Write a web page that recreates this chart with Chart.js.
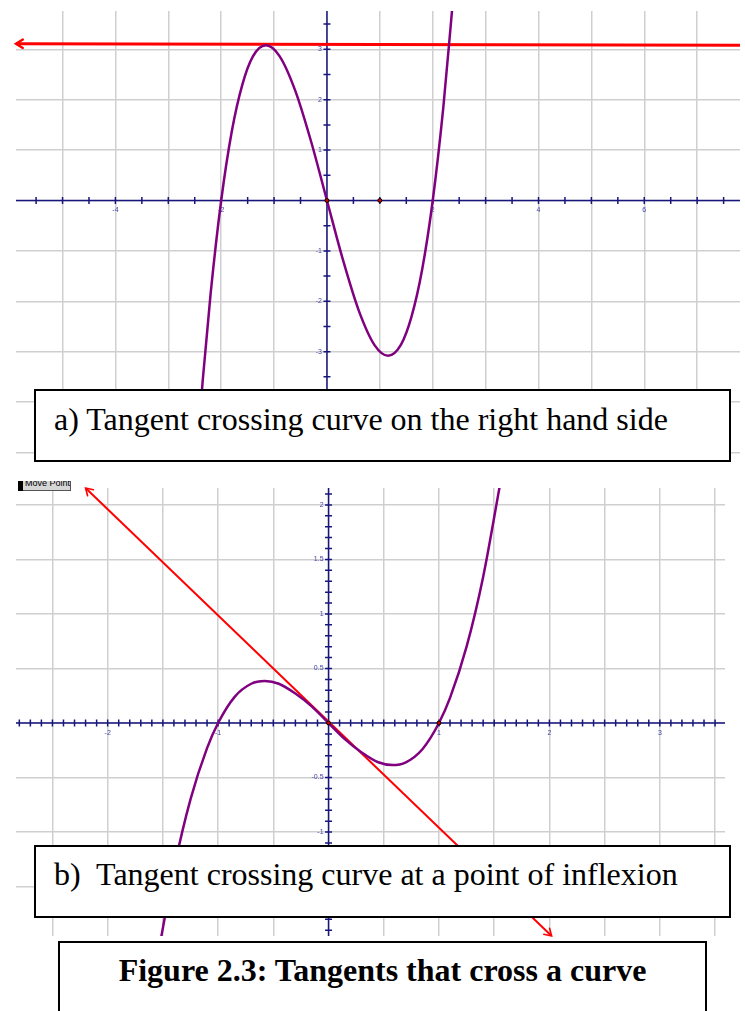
<!DOCTYPE html>
<html lang="en">
<head>
<meta charset="UTF-8">
<title>Tangents that cross a curve</title>
<script src="https://cdn.jsdelivr.net/npm/chart.js"></script>
<style>
  body { margin: 0; background: #fff; width: 745px; height: 1011px; position: relative; overflow: hidden; }
  .plot { position: absolute; display: block; }
  .caption {
    position: absolute; box-sizing: border-box; border: 2px solid #000; background: #fff;
    font-family: "Liberation Serif", "Times New Roman", serif; font-size: 32px; color: #000;
  }
  .caption span { position: absolute; line-height: 32px; white-space: pre; }
  #movePoint {
    position: absolute; left: 23px; top: 481px; width: 47px; height: 9px; overflow: hidden;
    background: #d6d6d6; border-right: 1px solid #555; border-bottom: 1px solid #555;
    font: 9px "Liberation Sans", Arial, sans-serif; color: #000;
  }
  #movePoint span { position: absolute; left: 2px; top: -3px; white-space: nowrap; }
  #moveGrip { position: absolute; left: 18px; top: 481px; width: 5px; height: 10px; background: #000; }
</style>
</head>
<body>
  <canvas id="graphA" class="plot" width="734" height="457" style="left:11px; top:6px;"></canvas>
  <canvas id="graphB" class="plot" width="719" height="458" style="left:11px; top:483px;"></canvas>

  <div id="moveGrip"></div>
  <div id="movePoint"><span>Move Point</span></div>

  <div class="caption" style="left:34px; top:389px; width:697px; height:73px;">
    <span style="left:18px; top:11.5px;">a) Tangent crossing curve on the right hand side</span>
  </div>
  <div class="caption" style="left:34px; top:845px; width:697px; height:73px;">
    <span style="left:18px; top:11.2px;">b)  Tangent crossing curve at a point of inflexion</span>
  </div>
  <div class="caption" style="left:58px; top:941px; width:649px; height:90px;">
    <span style="left:0; width:100%; text-align:center; top:11.2px; font-weight:bold;">Figure 2.3: Tangents that cross a curve</span>
  </div>

<script>
// (a) cubic with a turning point, tangent at the maximum
const curveAX = [-2.47, -2.35, -2.2, -2.0, -1.8, -1.6, -1.4, -1.155, -0.9, -0.6, -0.3, 0,
                 0.3, 0.6, 0.9, 1.155, 1.4, 1.6, 1.8, 2.0, 2.2, 2.37];
const curveAY = [-5.19, -3.58, -1.85, 0, 1.37, 2.30, 2.86, 3.08, 2.87, 2.18, 1.17, 0,
                 -1.17, -2.18, -2.87, -3.08, -2.86, -2.30, -1.37, 0, 1.85, 3.83];
const tangentAX = [-5.88, 7.81];
const tangentAY = [3.11, 3.08];
const pointsAX = [0, 1];
const pointsAY = [0, 0];
const xLabelsA = [-4, -2, 2, 4, 6];
const yLabelsA = [-3, -2, -1, 1, 2, 3];

// (b) cubic with its tangent at the point of inflexion
const curveBX = [-1.52, -1.4, -1.25, -1.1, -1.0, -0.85, -0.7, -0.577, -0.45, -0.3, -0.15, 0,
                 0.15, 0.3, 0.45, 0.577, 0.7, 0.85, 1.0, 1.1, 1.25, 1.4, 1.55];
const curveBY = [-1.99, -1.34, -0.70, -0.23, 0, 0.24, 0.36, 0.385, 0.36, 0.27, 0.15, 0,
                 -0.15, -0.27, -0.36, -0.385, -0.36, -0.24, 0, 0.23, 0.70, 1.34, 2.17];
const tangentBX = [-2.2, 2.02];
const tangentBY = [2.155, -1.953];
const pointsBX = [0, 1];
const pointsBY = [0, 0];
const xLabelsB = [-2, -1, 1, 2, 3];
const yLabelsB = [-1, -0.5, 0.5, 1, 1.5, 2];

const xy = (xs, ys) => xs.map((x, i) => ({ x: x, y: ys[i] }));

// axes through the origin with crossing tick marks and small blue labels
const crossAxes = {
    id: 'crossAxes',
    beforeDatasetsDraw(chart, args, opts) {
        const { ctx, chartArea: a, scales: { x, y } } = chart;
        const x0 = x.getPixelForValue(0);
        const y0 = y.getPixelForValue(0);
        ctx.save();
        ctx.strokeStyle = '#16167e';
        ctx.lineWidth = 1.5;
        ctx.beginPath();
        ctx.moveTo(a.left, y0); ctx.lineTo(a.right, y0);
        ctx.moveTo(x0, a.top); ctx.lineTo(x0, a.bottom);
        for (let i = 0; ; i++) {
            const v = opts.xTicks[0] + i * opts.xTicks[2];
            if (v > opts.xTicks[1] + 1e-9) break;
            const px = x.getPixelForValue(v);
            ctx.moveTo(px, y0 - 3.5); ctx.lineTo(px, y0 + 3.5);
        }
        for (let i = 0; ; i++) {
            const v = opts.yTicks[0] + i * opts.yTicks[2];
            if (v > opts.yTicks[1] + 1e-9) break;
            const py = y.getPixelForValue(v);
            ctx.moveTo(x0 - 3.5, py); ctx.lineTo(x0 + 3.5, py);
        }
        ctx.stroke();

        ctx.fillStyle = '#4444aa';
        ctx.font = '7px "Liberation Sans", Arial, sans-serif';
        ctx.textAlign = 'center';
        ctx.textBaseline = 'middle';
        opts.xLabels.forEach(v => ctx.fillText(String(v), x.getPixelForValue(v), y0 + 10));
        ctx.textAlign = 'right';
        opts.yLabels.forEach(v => ctx.fillText(String(v), x0 - 5, y.getPixelForValue(v)));
        ctx.restore();
    }
};

// open arrow heads on the tangent line ends
const arrowHeads = {
    id: 'arrowHeads',
    afterDatasetsDraw(chart, args, opts) {
        const pts = chart.getDatasetMeta(opts.dataset).data;
        const ctx = chart.ctx;
        ctx.save();
        ctx.strokeStyle = '#ff0000';
        ctx.lineWidth = opts.width;
        ctx.lineCap = 'round';
        opts.ends.forEach(end => {
            const tip = end === 'start' ? pts[0] : pts[pts.length - 1];
            const from = end === 'start' ? pts[1] : pts[pts.length - 2];
            const ang = Math.atan2(tip.y - from.y, tip.x - from.x);
            const len = opts.size, spread = 0.55;
            ctx.beginPath();
            ctx.moveTo(tip.x - len * Math.cos(ang - spread), tip.y - len * Math.sin(ang - spread));
            ctx.lineTo(tip.x, tip.y);
            ctx.lineTo(tip.x - len * Math.cos(ang + spread), tip.y - len * Math.sin(ang + spread));
            ctx.stroke();
        });
        ctx.restore();
    }
};

function makeGraph(id, d) {
    const gridScale = (min, max, step) => ({
        type: 'linear', min: min, max: max,
        border: { display: false },
        grid: { color: '#cfcfcf', lineWidth: 1.5, drawTicks: false },
        ticks: { display: false, stepSize: step, includeBounds: false }
    });
    return new Chart(document.getElementById(id), {
        type: 'scatter',
        data: {
            datasets: [
                {
                    data: xy(d.pointsX, d.pointsY), showLine: false,
                    pointRadius: 2, backgroundColor: '#d40000', borderColor: '#000', borderWidth: 1
                },
                {
                    data: xy(d.curveX, d.curveY), showLine: true, pointRadius: 0,
                    borderColor: '#800080', borderWidth: 2.5, cubicInterpolationMode: 'monotone'
                },
                {
                    data: xy(d.tangentX, d.tangentY), showLine: true, pointRadius: 0,
                    borderColor: '#ff0000', borderWidth: d.tangentWidth, tension: 0
                }
            ]
        },
        options: {
            responsive: false,
            animation: false,
            events: [],
            layout: { padding: 0 },
            scales: {
                x: gridScale(d.xMin, d.xMax, d.gridStep),
                y: gridScale(d.yMin, d.yMax, d.gridStep)
            },
            plugins: {
                legend: { display: false },
                tooltip: { enabled: false },
                crossAxes: { xTicks: d.xTicks, yTicks: d.yTicks, xLabels: d.xLabels, yLabels: d.yLabels },
                arrowHeads: { dataset: 2, ends: d.arrowEnds, size: 8, width: d.tangentWidth * 0.8 }
            }
        },
        plugins: [crossAxes, arrowHeads]
    });
}

makeGraph('graphA', {
    curveX: curveAX, curveY: curveAY, tangentX: tangentAX, tangentY: tangentAY,
    pointsX: pointsAX, pointsY: pointsAY, xLabels: xLabelsA, yLabels: yLabelsA,
    xMin: -5.88, xMax: 7.81, yMin: -5.11, yMax: 3.76, gridStep: 1,
    xTicks: [-5.5, 7.5, 0.5], yTicks: [-3.5, 3.5, 0.5],
    tangentWidth: 3, arrowEnds: ['start']
});

makeGraph('graphB', {
    curveX: curveBX, curveY: curveBY, tangentX: tangentBX, tangentY: tangentBY,
    pointsX: pointsBX, pointsY: pointsBY, xLabels: xLabelsB, yLabels: yLabelsB,
    xMin: -2.83, xMax: 3.59, yMin: -1.953, yMax: 2.155, gridStep: 0.5,
    xTicks: [-2.8, 3.5, 0.1], yTicks: [-1.9, 2.1, 0.1],
    tangentWidth: 2, arrowEnds: ['start', 'end']
});
</script>
</body>
</html>
